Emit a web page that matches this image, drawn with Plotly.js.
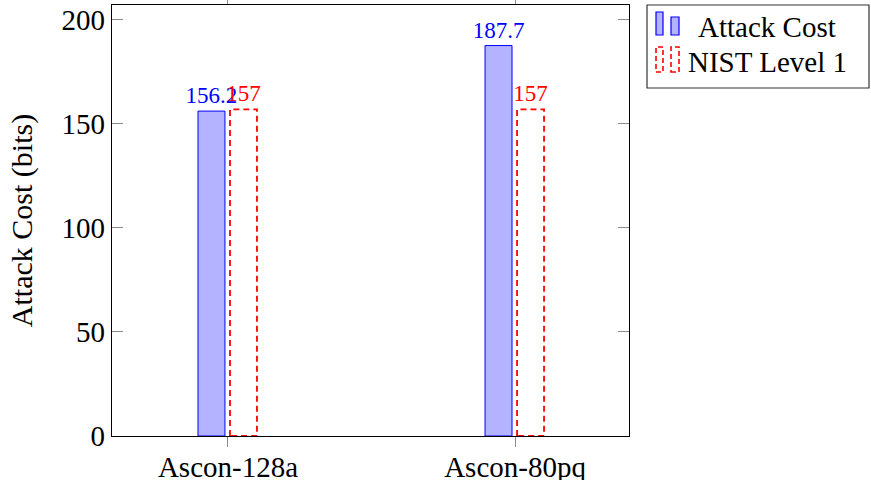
<!DOCTYPE html>
<html>
<head>
<meta charset="utf-8">
<script src="https://cdn.plot.ly/plotly-3.0.1.min.js"></script>
<style>html,body{margin:0;padding:0;background:#fff;}#chart{width:871px;height:480px;}</style>
</head>
<body>
<div id="chart"></div>
<script>
// ---- data ----
const categories = ["Ascon-128a", "Ascon-80pq"];
const attackCost = [156.2, 187.7];
const nistLevel1 = [157, 157];
const attackLabels = ["156.2", "187.7"];
const nistLabels = ["157", "157"];
const yTicks = [0, 50, 100, 150, 200];
const seriesNames = ["Attack Cost", "NIST Level 1"];

// ---- geometry / style ----
const FONT = "Liberation Serif, Times New Roman, serif";
const L = 112, R = 629, T = 5, B = 436;
const px2x = p => (p - L) / (R - L);
const py2y = p => (B - p) / (B - T);
const barW = 0.094, blueOff = -0.1045, redOff = 0.007;
const idx = categories.map((c, i) => i);

// dashed outline for NIST bars, derived from data
const ox = [], oy = [];
idx.forEach(i => {
  const x0 = i + redOff, x1 = x0 + barW, v = nistLevel1[i];
  ox.push(x0, x0, x1, x1, x0, null);
  oy.push(0, v, v, 0, 0, null);
});

const traces = [
  {
    type: "bar", x: idx, y: attackCost, width: barW, offset: blueOff,
    name: seriesNames[0],
    marker: {color: "rgb(179,179,255)", line: {color: "rgb(0,0,255)", width: 1}},
    text: attackLabels, textposition: "outside", constraintext: "none",
    textfont: {family: FONT, size: 23, color: "rgb(0,0,255)"},
    cliponaxis: false, showlegend: false, hoverinfo: "y"
  },
  {
    type: "bar", x: idx, y: nistLevel1, width: barW, offset: redOff,
    name: seriesNames[1],
    marker: {color: "rgba(0,0,0,0)", line: {width: 0}},
    text: nistLabels, textposition: "outside", constraintext: "none",
    textfont: {family: FONT, size: 23, color: "rgb(255,0,0)"},
    cliponaxis: false, showlegend: false, hoverinfo: "y"
  },
  {
    type: "scatter", mode: "lines", x: ox, y: oy,
    line: {color: "rgb(255,0,0)", width: 1.8, dash: "6px,4px"},
    cliponaxis: false, showlegend: false, hoverinfo: "skip"
  }
];

// custom pgfplots-style legend
const shapes = [
  {type: "rect", xref: "paper", yref: "paper", x0: px2x(647), x1: px2x(869), y0: py2y(88), y1: py2y(5),
   line: {color: "#333", width: 1.2}, fillcolor: "white"},
  {type: "rect", xref: "paper", yref: "paper", x0: px2x(656), x1: px2x(663), y0: py2y(35), y1: py2y(12),
   line: {color: "rgb(0,0,255)", width: 1.2}, fillcolor: "rgb(179,179,255)"},
  {type: "rect", xref: "paper", yref: "paper", x0: px2x(671), x1: px2x(679), y0: py2y(35), y1: py2y(17),
   line: {color: "rgb(0,0,255)", width: 1.2}, fillcolor: "rgb(179,179,255)"},
  {type: "rect", xref: "paper", yref: "paper", x0: px2x(656), x1: px2x(663), y0: py2y(72), y1: py2y(47),
   line: {color: "rgb(255,0,0)", width: 1.6, dash: "5px,3px"}},
  {type: "rect", xref: "paper", yref: "paper", x0: px2x(671), x1: px2x(679), y0: py2y(72), y1: py2y(47),
   line: {color: "rgb(255,0,0)", width: 1.6, dash: "5px,3px"}}
];
const annotations = [
  {xref: "paper", yref: "paper", x: px2x(696), y: py2y(27), xanchor: "left", yanchor: "middle",
   text: seriesNames[0], showarrow: false, font: {family: FONT, size: 29, color: "black"}},
  {xref: "paper", yref: "paper", x: px2x(686), y: py2y(62), xanchor: "left", yanchor: "middle",
   text: seriesNames[1], showarrow: false, font: {family: FONT, size: 29, color: "black"}}
];

const layout = {
  width: 871, height: 480,
  margin: {l: L, r: 871 - R, t: T, b: 480 - B, pad: 0},
  paper_bgcolor: "white", plot_bgcolor: "white",
  showlegend: false,
  font: {family: FONT, size: 29, color: "black"},
  xaxis: {
    type: "linear", range: [-0.404, 1.397],
    tickmode: "array", tickvals: idx, ticktext: categories,
    ticks: "outside", ticklen: 10, tickcolor: "#8a8a8a", tickwidth: 1,
    ticklabelstandoff: -5,
    showline: true, linecolor: "black", linewidth: 1.2, mirror: "ticks",
    showgrid: false, zeroline: false,
    tickfont: {family: FONT, size: 29, color: "black"}
  },
  yaxis: {
    range: [0, 207.2],
    tickmode: "array", tickvals: yTicks,
    ticks: "inside", ticklen: 11, tickcolor: "#8a8a8a", tickwidth: 1,
    showline: true, linecolor: "black", linewidth: 1.2, mirror: "ticks",
    showgrid: false, zeroline: false,
    tickfont: {family: FONT, size: 29, color: "black"},
    title: {text: "Attack Cost (bits)", font: {family: FONT, size: 30, color: "black"}, standoff: 20}
  },
  shapes: shapes,
  annotations: annotations
};

Plotly.newPlot("chart", traces, layout, {staticPlot: true, displayModeBar: false});
</script>
</body>
</html>
